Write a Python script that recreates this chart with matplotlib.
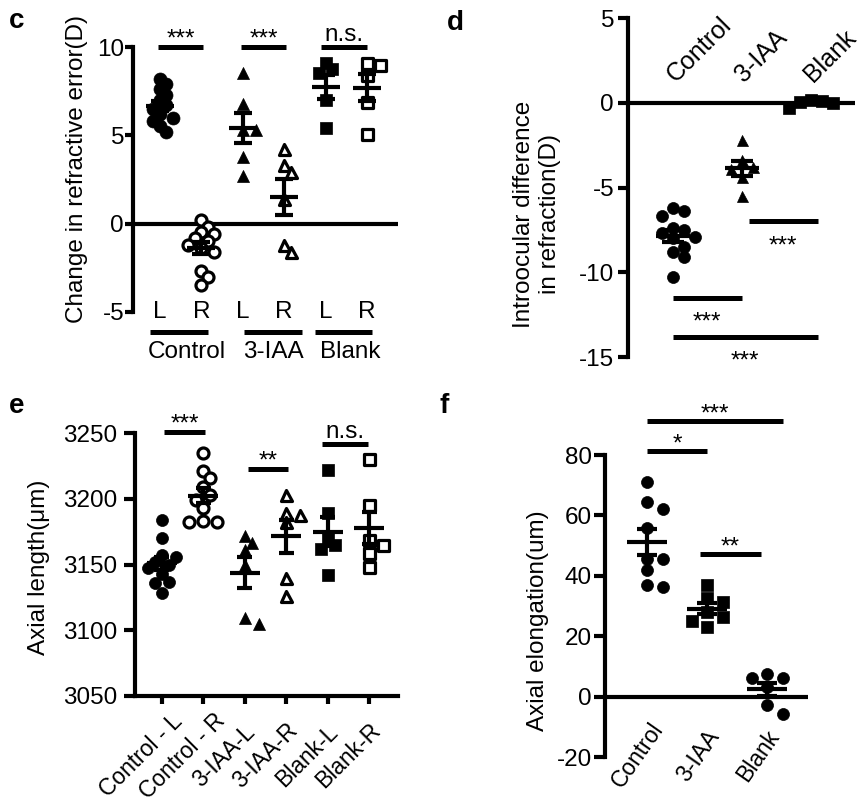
"""
Dot plots (mean +/- SEM) for refraction and axial length, panels c-f.
"""

import numpy as np
import matplotlib.pyplot as plt
from matplotlib.markers import MarkerStyle
from matplotlib.transforms import blended_transform_factory

plt.rcParams["font.family"] = ["Liberation Sans", "DejaVu Sans"]
plt.rcParams["axes.unicode_minus"] = False

# =========================================================
# DATA
# =========================================================

GROUPS = ["Control", "3-IAA", "Blank"]
EYES = ["L", "R", "L", "R", "L", "R"]
E_TICKLABELS = ["Control - L", "Control - R", "3-IAA-L", "3-IAA-R", "Blank-L", "Blank-R"]

# c: change in refractive error (D)
c_ctrl_l = [8.2, 7.9, 7.6, 7.3, 7.0, 6.7, 6.5, 6.2, 6.0, 5.8, 5.5, 5.2]
c_ctrl_r = [0.2, -0.2, -0.5, -0.6, -0.8, -1.0, -1.2, -1.4, -1.6, -2.7, -3.0, -3.5]
c_iaa_l = [8.5, 6.8, 5.3, 5.3, 3.8, 2.7]
c_iaa_r = [4.2, 3.3, 2.95, 1.4, -1.2, -1.6]
c_blank_l = [9.1, 8.75, 8.5, 7.0, 5.4]
c_blank_r = [9.1, 9.0, 8.4, 6.9, 5.1]

# d: interocular difference in refraction (D)
d_ctrl = [-6.2, -6.4, -6.7, -7.4, -7.5, -7.7, -7.9, -8.0, -8.5, -8.8, -9.1, -10.3]
d_iaa = [-2.2, -3.4, -3.8, -3.9, -4.4, -5.5]
d_blank = [0.15, 0.1, 0.0, 0.05, -0.3]

# e: axial length (um)
e_ctrl_l = [3184, 3170, 3157, 3156, 3152, 3150, 3147, 3143, 3137, 3136, 3128]
e_ctrl_r = [3235, 3221, 3216, 3209, 3203, 3199, 3193, 3183, 3182, 3182]
e_iaa_l = [3172, 3166, 3161, 3150, 3109, 3105]
e_iaa_r = [3203, 3189, 3188, 3182, 3140, 3126]
e_blank_l = [3222, 3189, 3170, 3165, 3162, 3142]
e_blank_r = [3230, 3195, 3169, 3165, 3159, 3148]

# f: axial elongation (um)
f_ctrl = [71.2, 64.6, 62.2, 55.9, 45.6, 45.6, 41.9, 36.9, 36.3]
f_iaa = [36.9, 32.6, 31.3, 28.0, 26.4, 25.0, 23.0]
f_blank = [7.4, 6.1, 6.1, 3.2, -2.8, -5.8]

# =========================================================
# STYLE
# =========================================================

W, H = 865, 806
PT = 72 / 100          # points per pixel at dpi 100
FS = 17.5
LW = 3.0


def frac(x, y, w, h):
    """pixel box (top-left origin) -> figure fraction rect"""
    return [x / W, (H - y - h) / H, w / W, h / H]


def px_to_dx(ax, px):
    p0 = ax.transData.transform((0, 0))
    p1 = ax.transData.transform((1, 0))
    return px / (p1[0] - p0[0])


def swarm(ax, x0, vals, col_px, min_px):
    """column-wise spread so markers do not pile up"""
    vals = np.asarray(vals, dtype=float)
    py = ax.transData.transform(np.column_stack([np.full(len(vals), x0), vals]))[:, 1]
    order = np.argsort(-vals, kind="stable")
    placed = []
    cols = np.zeros(len(vals))
    for i in order:
        for k in (0, 1, -1, 2, -2, 3, -3, 4, -4):
            if all(((k - kk) * col_px) ** 2 + (py[i] - yy) ** 2 >= min_px ** 2
                   for kk, yy in placed):
                break
        placed.append((k, py[i]))
        cols[i] = k
    return x0 + cols * px_to_dx(ax, col_px)


def dots(ax, x0, vals, marker, hollow, size_px, col_px, min_px, mean_px, cap_px):
    xs = swarm(ax, x0, vals, col_px, min_px)
    ms = MarkerStyle(marker, joinstyle="round")
    if hollow:
        ax.plot(xs, vals, ls="none", marker=ms, ms=size_px * PT, mfc="white",
                mec="black", mew=2.3, zorder=3, clip_on=False)
    else:
        ax.plot(xs, vals, ls="none", marker=ms, ms=size_px * PT, mfc="black",
                mec="black", mew=0.5, zorder=3, clip_on=False)
    m = np.mean(vals)
    se = np.std(vals, ddof=1) / np.sqrt(len(vals))
    hw = px_to_dx(ax, mean_px)
    cw = px_to_dx(ax, cap_px)
    kw = dict(color="black", lw=LW, zorder=5, clip_on=False, solid_capstyle="butt")
    ax.plot([x0 - hw, x0 + hw], [m, m], **kw)
    ax.plot([x0, x0], [m - se, m + se], **kw)
    ax.plot([x0 - cw, x0 + cw], [m + se, m + se], **kw)
    ax.plot([x0 - cw, x0 + cw], [m - se, m - se], **kw)


def sig(ax, x0, x1, y, label, below=False):
    ax.plot([x0, x1], [y, y], color="black", lw=3.6, solid_capstyle="butt",
            clip_on=False, zorder=5)
    if below:
        off = -31
    elif label == "n.s.":
        off = 6
    else:
        off = 1
    ax.annotate(label, xy=((x0 + x1) / 2, y), xytext=(0, off * PT),
                textcoords="offset points", ha="center", va="baseline",
                fontsize=FS, annotation_clip=False)


def rot_label(ax, x, y, text, dx_px, dy_px, angle, size):
    """rotated category label, centred at a pixel offset from (x, y)"""
    ax.annotate(text, xy=(x, y), xytext=(dx_px * PT, -dy_px * PT),
                textcoords="offset points", rotation=angle, ha="center",
                va="center", fontsize=size, annotation_clip=False)


def style_axis(ax, tick_px, pad_px):
    for s in ("top", "right", "bottom"):
        ax.spines[s].set_visible(False)
    ax.spines["left"].set_linewidth(LW)
    ax.tick_params(axis="y", width=LW, length=tick_px * PT, pad=pad_px * PT,
                   labelsize=FS, direction="out")
    ax.set_xticks([])
    ax.set_facecolor("none")


fig = plt.figure(figsize=(W / 100, H / 100), dpi=100)

# =========================================================
# PANEL c
# =========================================================

ax = fig.add_axes(frac(133, 47, 265, 265))
ax.set_xlim(-0.65, 5.75)
ax.set_ylim(-5, 10)
ax.set_yticks([-5, 0, 5, 10])
style_axis(ax, 8, 1)
ax.axhline(0, color="black", lw=LW, zorder=1)

c_sets = [c_ctrl_l, c_ctrl_r, c_iaa_l, c_iaa_r, c_blank_l, c_blank_r]
c_marks = [("o", False, 13), ("o", True, 11), ("^", False, 12),
           ("^", True, 11), ("s", False, 12), ("s", True, 11)]
for i, (vals, (mk, hol, sz)) in enumerate(zip(c_sets, c_marks)):
    dots(ax, i, vals, mk, hol, sz, 6.5, 8, 14, 9)

sig(ax, -0.05, 1.05, 10, "***")
sig(ax, 1.95, 3.05, 10, "***")
sig(ax, 3.9, 5.0, 10, "n.s.")

tr = blended_transform_factory(ax.transData, ax.transAxes)
for i, eye in enumerate(EYES):
    ax.text(i, -0.023, eye, transform=tr, ha="center", va="baseline", fontsize=FS)
c_brackets = [(-0.24, 1.16), (2.03, 3.43), (3.74, 5.12)]
c_name_x = [0.65, 2.75, 4.6]
for (a, b), nx, name in zip(c_brackets, c_name_x, GROUPS):
    ax.plot([a, b], [-0.0755, -0.0755], transform=tr, color="black", lw=3.6,
            solid_capstyle="butt", clip_on=False)
    ax.text(nx, -0.174, name, transform=tr, ha="center", va="baseline", fontsize=FS)

fig.text(77 / W, 1 - 169 / H, "Change in refractive error(D)", rotation=90,
         ha="center", va="center", fontsize=FS)

# =========================================================
# PANEL d
# =========================================================

ax = fig.add_axes(frac(628, 18, 227, 339))
ax.set_xlim(-0.65, 2.64)
ax.set_ylim(-15, 5)
ax.set_yticks([-15, -10, -5, 0, 5])
style_axis(ax, 10, 4)
ax.axhline(0, color="black", lw=LW, zorder=1)

d_sets = [d_ctrl, d_iaa, d_blank]
d_marks = [("o", 12), ("^", 11), ("s", 12)]
for i, (vals, (mk, sz)) in enumerate(zip(d_sets, d_marks)):
    dots(ax, i, vals, mk, False, sz, 11, 10, 17, 11)

sig(ax, 1.1, 2.1, -7.0, "***", below=True)
sig(ax, 0.0, 1.0, -11.5, "***", below=True)
sig(ax, 0.0, 2.1, -13.8, "***", below=True)

for i, name in enumerate(GROUPS):
    ax.annotate(name, xy=(i, 0), xytext=(6 * PT, 16 * PT), textcoords="offset points",
                rotation=45, rotation_mode="anchor", ha="left", va="bottom",
                fontsize=18, annotation_clip=False)

fig.text(537 / W, 1 - 214 / H, "Introocular difference\nin refraction(D)",
         rotation=90, ha="center", va="center", fontsize=FS, multialignment="center")

# =========================================================
# PANEL e
# =========================================================

ax = fig.add_axes(frac(135, 433, 263, 263))
ax.set_xlim(-0.65, 5.7)
ax.set_ylim(3050, 3250)
ax.set_yticks([3050, 3100, 3150, 3200, 3250])
style_axis(ax, 11, 7)
ax.spines["bottom"].set_visible(True)
ax.spines["bottom"].set_linewidth(LW)
ax.set_xticks(range(6))
ax.set_xticklabels([])
ax.tick_params(axis="x", width=LW, length=8 * PT, direction="out")

e_sets = [e_ctrl_l, e_ctrl_r, e_iaa_l, e_iaa_r, e_blank_l, e_blank_r]
for i, (vals, (mk, hol, sz)) in enumerate(zip(e_sets, c_marks)):
    dots(ax, i, vals, mk, hol, min(sz, 12), 7, 9, 15, 7.5)

sig(ax, 0.05, 1.04, 3251, "***")
sig(ax, 2.08, 3.05, 3223, "**")
sig(ax, 3.87, 4.98, 3242, "n.s.")

for i, lab in enumerate(E_TICKLABELS):
    rot_label(ax, i, 3050, lab, -21, 60, 45, 16.5)

fig.text(39 / W, 1 - 567 / H, "Axial length(μm)", rotation=90,
         ha="center", va="center", fontsize=FS)

# =========================================================
# PANEL f
# =========================================================

ax = fig.add_axes(frac(605, 455, 203, 302))
ax.set_xlim(-0.7, 2.68)
ax.set_ylim(-20, 80)
ax.set_yticks([-20, 0, 20, 40, 60, 80])
style_axis(ax, 11, 2)
ax.axhline(0, color="black", lw=LW, zorder=1)

f_sets = [f_ctrl, f_iaa, f_blank]
f_marks = [("o", 12), ("s", 12), ("o", 12)]
for i, (vals, (mk, sz)) in enumerate(zip(f_sets, f_marks)):
    dots(ax, i, vals, mk, False, sz, 15.5, 11, 20, 10)

sig(ax, 0.0, 2.27, 91.2, "***")
sig(ax, 0.0, 1.0, 81.3, "*")
sig(ax, 0.88, 1.9, 47.1, "**")

for i, name in enumerate(GROUPS):
    rot_label(ax, i, 0, name, -9, 59, 55, 16.5)

fig.text(538 / W, 1 - 621 / H, "Axial elongation(um)", rotation=90,
         ha="center", va="center", fontsize=FS)

# =========================================================
# PANEL LETTERS
# =========================================================

for x, y, letter in [(9, 28, "c"), (447, 30, "d"), (9, 413, "e"), (440, 413, "f")]:
    fig.text(x / W, 1 - y / H, letter, fontsize=20, fontweight="bold", va="baseline")

fig.savefig("out.png", dpi=100)
